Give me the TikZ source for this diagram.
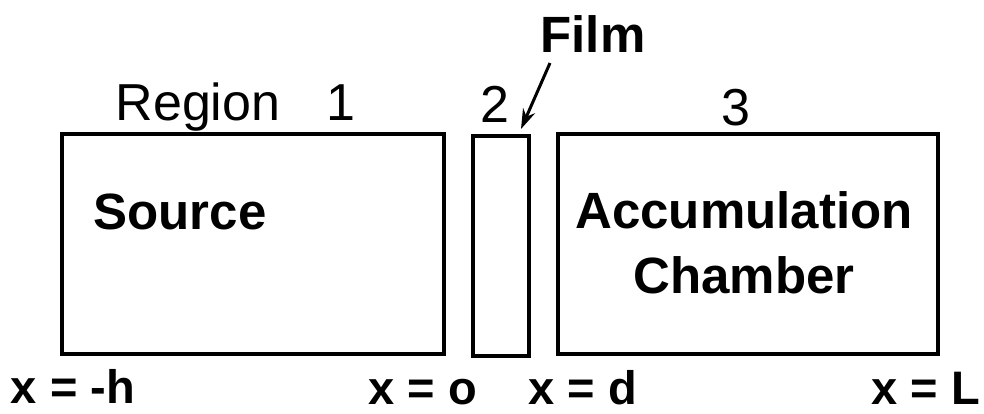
\documentclass[tikz,border=0pt]{standalone}
\usepackage{fontspec}
\setmainfont{Liberation Sans}
\usetikzlibrary{arrows.meta}
\begin{document}
\begin{tikzpicture}[x=1pt,y=-1pt,
  region/.style={draw,line width=3.2pt},
  lab/.style={inner sep=0pt,anchor=base},
  bigb/.style={font=\fontsize{51}{60}\selectfont\bfseries},
  bigr/.style={font=\fontsize{52}{60}\selectfont},
  xlabel/.style={font=\fontsize{47}{54}\selectfont\bfseries,inner sep=0pt,anchor=base}]
\useasboundingbox (0,0) rectangle (984,413);
\draw[region] (62,134) rectangle (444,354);
\draw[region] (473,136) rectangle (529,356);
\draw[region] (558,134) rectangle (938,354);
\node[bigr,lab] (reg) at (198,120) {Region};
\node[bigr,lab] (one) at (341,120) {1};
\node[bigr,lab] (two) at (495,122) {2};
\node[bigr,lab] (three) at (736,125) {3};
\node[bigb,lab] (film) at (593,52) {Film};
\coordinate (fs) at (550,63);
\coordinate (fe) at (521,129);
\draw[line width=3pt,-{Stealth[length=20pt,width=13pt]}] (fs) -- (fe);
\node[bigb,lab] (source) at (180,229) {Source};
\node[bigb,lab] (acc) at (744,228) {Accumulation};
\node[bigb,lab] (cham) at (744,293) {Chamber};
\node[xlabel] (xh) at (73,403) {x = -h};
\node[xlabel] (xo) at (423,404) {x = o};
\node[xlabel] (xd) at (583,404) {x = d};
\node[xlabel] (xl) at (926,404) {x = L};
\end{tikzpicture}
\end{document}
